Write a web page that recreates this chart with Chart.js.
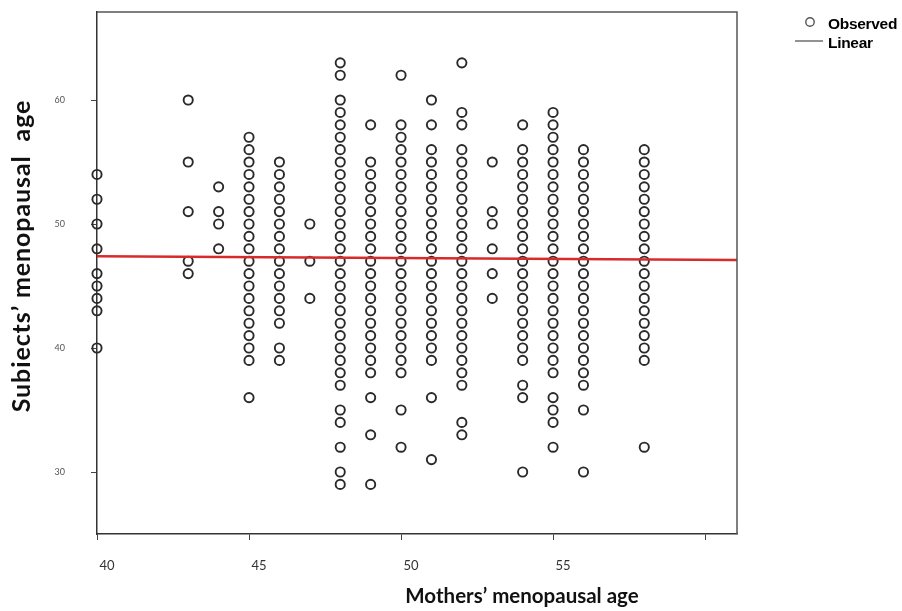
<!DOCTYPE html>
<html>
<head>
<meta charset="utf-8">
<script src="https://cdn.jsdelivr.net/npm/chart.js@4"></script>
<style>
  html, body { margin: 0; padding: 0; background: #fff; }
  #wrap { width: 902px; height: 611px; position: relative; }
</style>
</head>
<body>
<div id="wrap"><canvas id="chart"></canvas></div>
<script>
// mothers' menopausal age (x columns)
const motherAge = [40, 43, 44, 45, 46, 47, 48, 49, 50, 51, 52, 53, 54, 55, 56, 58];

const subjectAge = [
  [54, 52, 50, 48, 46, 45, 44, 43, 40],
  [60, 55, 51, 47, 46],
  [53, 51, 50, 48],
  [57, 56, 55, 54, 53, 52, 51, 50, 49, 48, 47, 46, 45, 44, 43, 42, 41, 40, 39, 36],
  [55, 54, 53, 52, 51, 50, 49, 48, 47, 46, 45, 44, 43, 42, 40, 39],
  [50, 47, 44],
  [63, 62, 60, 59, 58, 57, 56, 55, 54, 53, 52, 51, 50, 49, 48, 47, 46, 45, 44, 43, 42, 41, 40, 39, 38, 37, 35, 34, 32, 30, 29],
  [58, 55, 54, 53, 52, 51, 50, 49, 48, 47, 46, 45, 44, 43, 42, 41, 40, 39, 38, 36, 33, 29],
  [62, 58, 57, 56, 55, 54, 53, 52, 51, 50, 49, 48, 47, 46, 45, 44, 43, 42, 41, 40, 39, 38, 35, 32],
  [60, 58, 56, 55, 54, 53, 52, 51, 50, 49, 48, 47, 46, 45, 44, 43, 42, 41, 40, 39, 36, 31],
  [63, 59, 58, 56, 55, 54, 53, 52, 51, 50, 49, 48, 47, 46, 45, 44, 43, 42, 41, 40, 39, 38, 37, 34, 33],
  [55, 51, 50, 48, 46, 44],
  [58, 56, 55, 54, 53, 52, 51, 50, 49, 48, 47, 46, 45, 44, 43, 42, 41, 40, 39, 37, 36, 30],
  [59, 58, 57, 56, 55, 54, 53, 52, 51, 50, 49, 48, 47, 46, 45, 44, 43, 42, 41, 40, 39, 38, 36, 35, 34, 32],
  [56, 55, 54, 53, 52, 51, 50, 49, 48, 47, 46, 45, 44, 43, 42, 41, 40, 39, 38, 37, 35, 30],
  [56, 55, 54, 53, 52, 51, 50, 49, 48, 47, 46, 45, 44, 43, 42, 41, 40, 39, 32]
];

// fitted linear line, end points
const fitX = [40, 61.05];
const fitY = [47.4, 47.1];

const xTicks = [40, 45, 50, 55, 60];
const xTickLabels = ["40", "45", "50", "55", ""];
const yTicks = [30, 40, 50, 60];

const xTitle = "Mothers’ menopausal age";
const yTitle = "Subiects’ menopausal  age";
const legendLabels = ["Observed", "Linear"];

const observed = [];
motherAge.forEach((m, i) => {
  subjectAge[i].forEach(s => observed.push({ x: m, y: s }));
});
const fitted = fitX.map((x, i) => ({ x, y: fitY[i] }));

// frame, axis titles and the legend
const decor = {
  id: "decor",
  afterDraw(chart) {
    const { ctx, chartArea: a } = chart;
    ctx.save();
    ctx.strokeStyle = "#555";
    ctx.lineWidth = 1.5;
    ctx.beginPath();
    ctx.moveTo(a.left, a.top);
    ctx.lineTo(a.right, a.top);
    ctx.lineTo(a.right, a.bottom);
    ctx.stroke();

    ctx.fillStyle = "#111";
    ctx.textAlign = "center";
    ctx.textBaseline = "middle";
    ctx.font = "bold 20.5px Lato";
    ctx.fillText(xTitle, 522, 596);

    ctx.save();
    ctx.translate(22, 256);
    ctx.rotate(-Math.PI / 2);
    ctx.font = "bold 25px Lato";
    ctx.letterSpacing = "0.9px";
    ctx.fillText(yTitle, 0, 0);
    ctx.restore();

    // legend
    ctx.strokeStyle = "#555";
    ctx.lineWidth = 1.4;
    ctx.beginPath();
    ctx.arc(810, 22, 4.2, 0, Math.PI * 2);
    ctx.stroke();
    ctx.strokeStyle = "#777";
    ctx.lineWidth = 1.6;
    ctx.beginPath();
    ctx.moveTo(795, 41);
    ctx.lineTo(823, 41);
    ctx.stroke();
    ctx.textAlign = "left";
    ctx.fillStyle = "#000";
    ctx.font = "bold 15.5px 'Liberation Sans'";
    ctx.letterSpacing = "-0.3px";
    ctx.fillText(legendLabels[0], 828, 25);
    ctx.fillText(legendLabels[1], 828, 44);
    ctx.restore();
  }
};

new Chart(document.getElementById("chart"), {
  type: "scatter",
  data: {
    datasets: [
      {
        type: "line",
        label: legendLabels[1],
        data: fitted,
        borderColor: "#d92a2a",
        borderWidth: 2.4,
        pointRadius: 0,
        fill: false
      },
      {
        label: legendLabels[0],
        data: observed,
        pointRadius: 4.6,
        pointBorderWidth: 1.9,
        pointBorderColor: "#2a2a2a",
        pointBackgroundColor: "rgba(0,0,0,0)",
        clip: false
      }
    ]
  },
  options: {
    responsive: true,
    maintainAspectRatio: false,
    animation: false,
    events: [],
    layout: { padding: { top: 12, right: 165, left: 0, bottom: 0 } },
    plugins: { legend: { display: false }, tooltip: { enabled: false } },
    scales: {
      x: {
        type: "linear",
        min: 40,
        max: 61.05,
        afterBuildTicks: (axis) => { axis.ticks = xTicks.map(v => ({ value: v })); },
        afterFit: (scale) => { scale.height = 77; scale.paddingRight = 0; },
        ticks: {
          callback: (v) => xTickLabels[xTicks.indexOf(v)] ?? "",
          font: { family: "Lato", size: 13 },
          color: "#333",
          padding: 18,
          labelOffset: 10,
          maxRotation: 0
        },
        grid: { drawOnChartArea: false, drawTicks: true, tickLength: 6, color: "#444" },
        border: { display: true, color: "#333", width: 1.5 }
      },
      y: {
        type: "linear",
        min: 25,
        max: 67.1,
        afterBuildTicks: (axis) => { axis.ticks = yTicks.map(v => ({ value: v })); },
        afterFit: (scale) => { scale.width = 97; scale.paddingTop = 0; scale.paddingBottom = 0; },
        ticks: {
          font: { family: "Lato", size: 9 },
          color: "#555",
          padding: 26
        },
        grid: { drawOnChartArea: false, drawTicks: true, tickLength: 6, color: "#444" },
        border: { display: true, color: "#333", width: 1.5 }
      }
    }
  },
  plugins: [decor]
});
</script>
</body>
</html>
